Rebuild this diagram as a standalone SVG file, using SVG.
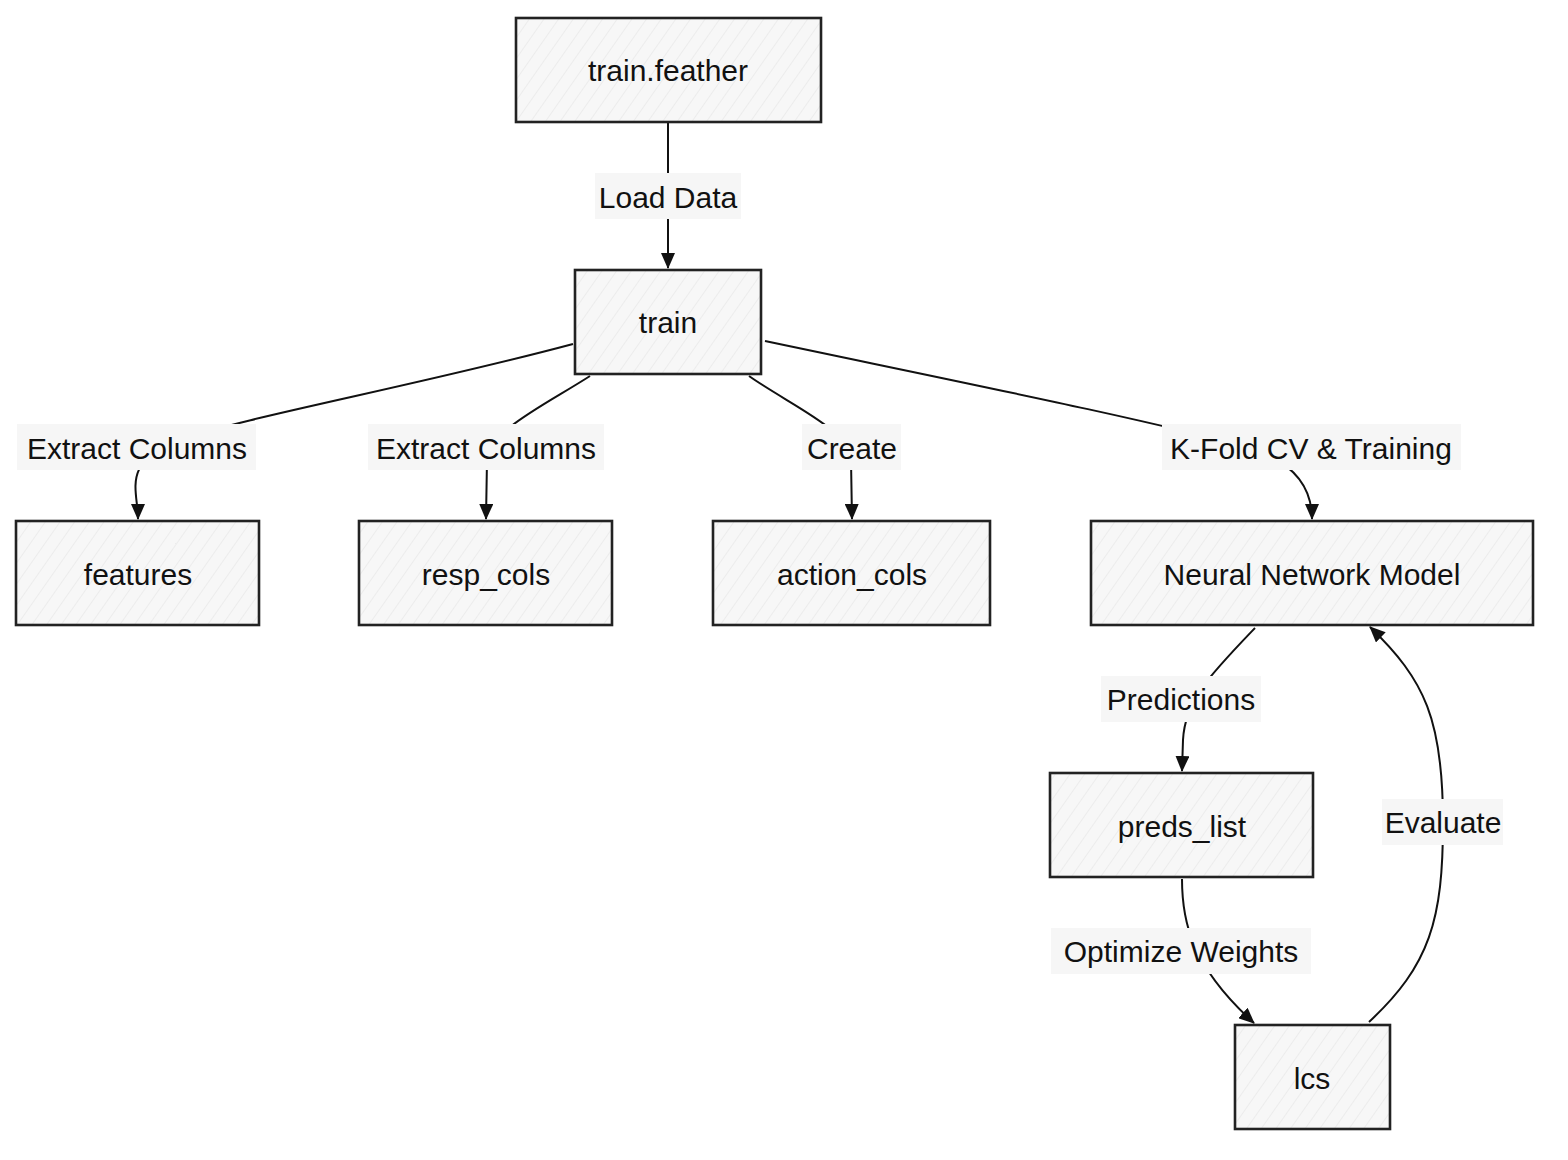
<svg xmlns="http://www.w3.org/2000/svg" width="1568" height="1160" viewBox="0 0 1568 1160">
<defs>
<pattern id="hatch" width="12" height="12" patternUnits="userSpaceOnUse" patternTransform="rotate(35)">
<rect width="12" height="12" fill="#f7f7f7"/>
<line x1="0" y1="0" x2="0" y2="12" stroke="#e9e9e9" stroke-width="1.5"/>
</pattern>
<marker id="arrow" viewBox="0 0 16 14" refX="15" refY="7" markerWidth="16" markerHeight="14" markerUnits="userSpaceOnUse" orient="auto">
<path d="M0,0 L16,7 L0,14 z" fill="#111"/>
</marker>
<style>
.node rect{fill:url(#hatch);stroke:#222;stroke-width:2.6}
.node text,.label text{font-family:"Liberation Sans","DejaVu Sans",sans-serif;font-size:30px;fill:#111;text-anchor:middle;dominant-baseline:central}
.edge{fill:none;stroke:#111;stroke-width:2}
.label rect{fill:#f6f6f6}
</style>
</defs>
<rect width="1568" height="1160" fill="#ffffff"/>
<g id="connectors">
<path class="edge" d="M668,122 L668,268" marker-end="url(#arrow)"/>
<path class="edge" d="M573,344 C420,385 240,418 180,440 S138,490 138,519" marker-end="url(#arrow)"/>
<path class="edge" d="M590,376 C545,405 490,430 487,460 L486,519" marker-end="url(#arrow)"/>
<path class="edge" d="M749,376 C790,405 850,430 851,460 L852,519" marker-end="url(#arrow)"/>
<path class="edge" d="M765,341 C950,380 1150,420 1250,448 Q1312,468 1312,519" marker-end="url(#arrow)"/>
<path class="edge" d="M1255,628 C1210,675 1185,700 1183,740 L1182,771" marker-end="url(#arrow)"/>
<path class="edge" d="M1182,879 C1182,920 1190,965 1254,1023" marker-end="url(#arrow)"/>
<path class="edge" d="M1369,1022 C1430,965 1443,920 1443,822 C1443,720 1425,680 1370,627" marker-end="url(#arrow)"/>
<g class="label"><rect x="595" y="173" width="146" height="46"/><text x="668" y="197">Load Data</text></g>
<g class="label"><rect x="17" y="424" width="239" height="46"/><text x="137" y="448">Extract Columns</text></g>
<g class="label"><rect x="368" y="424" width="236" height="46"/><text x="486" y="448">Extract Columns</text></g>
<g class="label"><rect x="802" y="424" width="99" height="46"/><text x="852" y="448">Create</text></g>
<g class="label"><rect x="1162" y="424" width="299" height="46"/><text x="1311" y="448">K-Fold CV &amp; Training</text></g>
<g class="label"><rect x="1101" y="676" width="160" height="46"/><text x="1181" y="699">Predictions</text></g>
<g class="label"><rect x="1051" y="928" width="260" height="46"/><text x="1181" y="951">Optimize Weights</text></g>
<g class="label"><rect x="1382" y="799" width="121" height="46"/><text x="1443" y="822">Evaluate</text></g>
</g>
<g id="node-train-feather" class="node"><rect x="516" y="18" width="305" height="104"/><text x="668" y="70">train.feather</text></g>
<g id="node-train" class="node"><rect x="575" y="270" width="186" height="104"/><text x="668" y="322">train</text></g>
<g id="node-features" class="node"><rect x="16" y="521" width="243" height="104"/><text x="138" y="574">features</text></g>
<g id="node-resp-cols" class="node"><rect x="359" y="521" width="253" height="104"/><text x="486" y="574">resp_cols</text></g>
<g id="node-action-cols" class="node"><rect x="713" y="521" width="277" height="104"/><text x="852" y="574">action_cols</text></g>
<g id="node-nn-model" class="node"><rect x="1091" y="521" width="442" height="104"/><text x="1312" y="574">Neural Network Model</text></g>
<g id="node-preds-list" class="node"><rect x="1050" y="773" width="263" height="104"/><text x="1182" y="826">preds_list</text></g>
<g id="node-lcs" class="node"><rect x="1235" y="1025" width="155" height="104"/><text x="1312" y="1078">lcs</text></g>
</svg>
